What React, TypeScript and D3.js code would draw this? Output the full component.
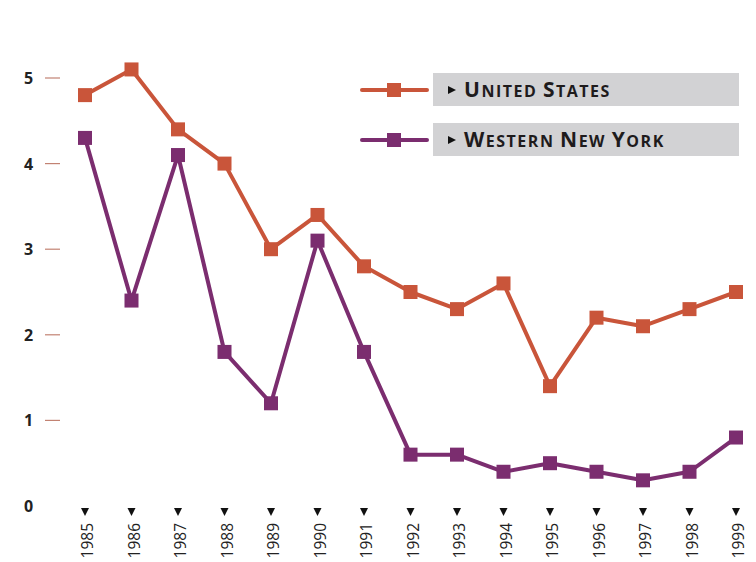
import React, { useEffect, useRef } from 'react';
import * as d3 from 'd3';

const years = [1985, 1986, 1987, 1988, 1989, 1990, 1991, 1992, 1993, 1994, 1995, 1996, 1997, 1998, 1999];
const unitedStates = [4.8, 5.1, 4.4, 4.0, 3.0, 3.4, 2.8, 2.5, 2.3, 2.6, 1.4, 2.2, 2.1, 2.3, 2.5];
const westernNY = [4.3, 2.4, 4.1, 1.8, 1.2, 3.1, 1.8, 0.6, 0.6, 0.4, 0.5, 0.4, 0.3, 0.4, 0.8];
const yTicks = [0, 1, 2, 3, 4, 5];

const seriesList = [
  { name: 'United States', values: unitedStates, color: '#c9553a' },
  { name: 'Western New York', values: westernNY, color: '#7b2d6f' },
];

const W = 756;
const H = 562;

// small caps by hand: capitals big, the rest smaller uppercase
const smallCaps = (sel: any, text: string, big: number, small: number) => {
  text.split('').forEach(ch => {
    const isCap = ch !== ' ' && ch === ch.toUpperCase();
    sel.append('tspan')
      .attr('font-size', isCap ? big : small)
      .text(ch.toUpperCase());
  });
};

const App = () => {
  const ref = useRef<SVGSVGElement>(null);

  useEffect(() => {
    const svg = d3.select(ref.current);
    svg.selectAll('*').remove();

    const x = d3.scalePoint<number>().domain(years).range([85, 736]);
    const y = d3.scaleLinear().domain([0, 5]).range([506, 78]);

    // y axis labels and ticks
    const yg = svg.append('g');
    yTicks.forEach(t => {
      yg.append('text')
        .attr('x', 28.5)
        .attr('y', y(t) + 6)
        .attr('text-anchor', 'middle')
        .attr('font-family', '"Open Sans", sans-serif')
        .attr('font-weight', 700)
        .attr('font-size', 16)
        .attr('fill', '#222')
        .text(t);
      if (t > 0) {
        yg.append('line')
          .attr('x1', 45).attr('x2', 60)
          .attr('y1', y(t)).attr('y2', y(t))
          .attr('stroke', '#c28272')
          .attr('stroke-width', 1.2);
      }
    });

    // x axis: triangles and rotated years
    const xg = svg.append('g');
    years.forEach(yr => {
      const cx = x(yr)!;
      xg.append('path')
        .attr('d', `M${cx - 4},508 L${cx + 4},508 L${cx},516 Z`)
        .attr('fill', '#111');
      xg.append('text')
        .attr('transform', `translate(${cx + 8},523) rotate(-90)`)
        .attr('text-anchor', 'end')
        .attr('font-family', '"Open Sans", sans-serif')
        .attr('font-size', 15.5)
        .attr('fill', '#222')
        .text(yr);
    });

    const line = d3.line<number>()
      .x((_, i) => x(years[i])!)
      .y(d => y(d));

    seriesList.forEach(s => {
      const g = svg.append('g');
      g.append('path')
        .attr('d', line(s.values))
        .attr('fill', 'none')
        .attr('stroke', s.color)
        .attr('stroke-width', 4)
        .attr('stroke-linejoin', 'round');
      g.selectAll('rect')
        .data(s.values)
        .join('rect')
        .attr('x', (_, i) => x(years[i])! - 7)
        .attr('y', d => y(d) - 7)
        .attr('width', 14)
        .attr('height', 14)
        .attr('fill', s.color);
    });

    // legend
    seriesList.forEach((s, i) => {
      const ly = 90 + i * 50;
      const g = svg.append('g');
      g.append('line')
        .attr('x1', 362).attr('x2', 427)
        .attr('y1', ly).attr('y2', ly)
        .attr('stroke', s.color)
        .attr('stroke-width', 4)
        .attr('stroke-linecap', 'round');
      g.append('rect')
        .attr('x', 387).attr('y', ly - 7)
        .attr('width', 14).attr('height', 14)
        .attr('fill', s.color);
      g.append('rect')
        .attr('x', 433).attr('y', ly - 17)
        .attr('width', 306).attr('height', 33)
        .attr('fill', '#d2d2d4');
      g.append('path')
        .attr('d', `M448,${ly - 4} L456,${ly} L448,${ly + 4} Z`)
        .attr('fill', '#111');
      const txt = g.append('text')
        .attr('x', 464)
        .attr('y', ly + 7)
        .attr('font-family', '"Open Sans", sans-serif')
        .attr('font-weight', 700)
        .attr('letter-spacing', 1.5)
        .attr('fill', '#1e1b1c');
      smallCaps(txt, s.name, 21, 16);
    });
  }, []);

  return <svg ref={ref} width={W} height={H} style={{ position: 'absolute', left: 0, top: 0 }} />;
};

export default App;
